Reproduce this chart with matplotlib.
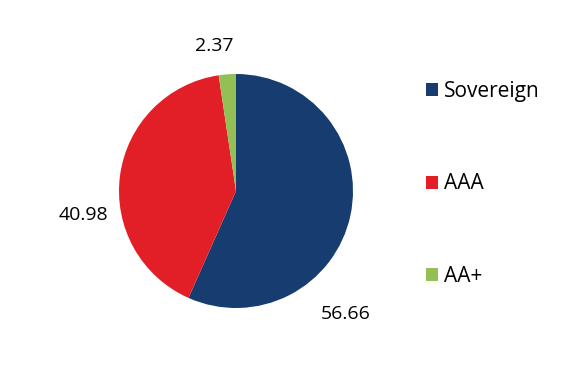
import matplotlib.pyplot as plt
from matplotlib.patches import Patch

categories = ["Sovereign", "AAA", "AA+"]
values = [56.66, 40.98, 2.37]
colors = ["#173d70", "#e21f26", "#93bf55"]
# label offsets in units of pie radius
label_pos = [(0.94, -1.05), (-1.30, -0.205), (-0.188, 1.239)]

plt.rcParams['font.family'] = ['Open Sans', 'DejaVu Sans']

W, H = 574, 374
fig = plt.figure(figsize=(W / 100, H / 100), dpi=100)
cx, cy, r = 236, 191, 117
ax = fig.add_axes([(cx - r) / W, (H - cy - r) / H, 2 * r / W, 2 * r / H])
ax.pie(values, colors=colors, startangle=90, counterclock=False,
       wedgeprops=dict(linewidth=0))
ax.set_xlim(-1, 1)
ax.set_ylim(-1, 1)
ax.set_aspect('equal')
ax.axis('off')

for v, (x, y) in zip(values, label_pos):
    ax.text(x, y, f"{v:.2f}", ha='center', va='center', fontsize=14,
            clip_on=False)

handles = [Patch(facecolor=c, edgecolor='none') for c in colors]
fig.legend(handles, categories, loc='upper left',
           bbox_to_anchor=(426 / W, 1 - 80.5 / H), frameon=False,
           fontsize=15, handlelength=0.58, handleheight=0.58,
           handletextpad=0.3, labelspacing=3.45, borderpad=0,
           borderaxespad=0)

fig.savefig("out.png", dpi=100)
